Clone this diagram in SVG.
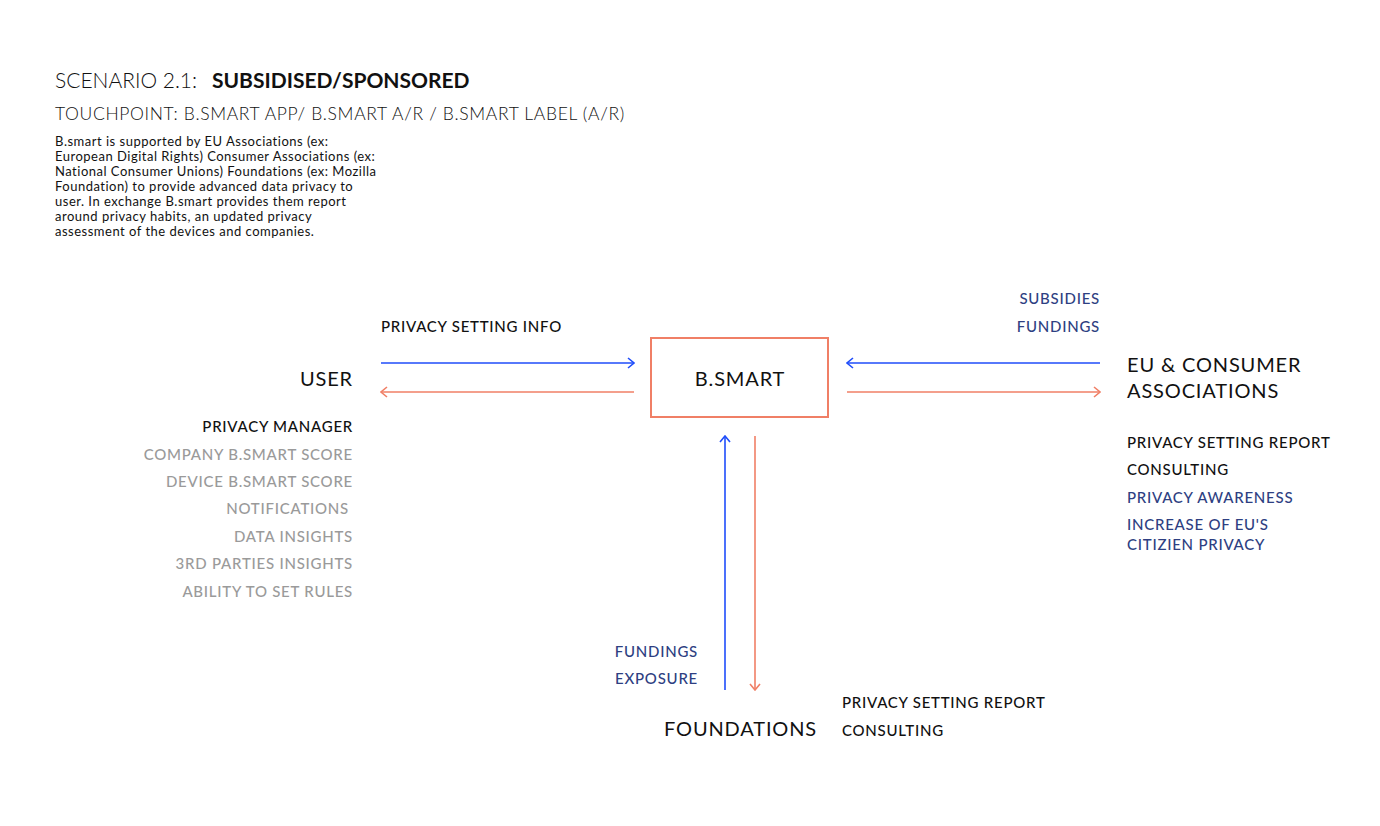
<svg xmlns="http://www.w3.org/2000/svg" width="1380" height="826" viewBox="0 0 1380 826">
<defs>
<style>
text{font-family:"Lato","Liberation Sans",sans-serif;}
.t15{font-size:15px;font-weight:500;letter-spacing:0.75px;}
.blk{fill:#111;}
.gry{fill:#9a9a9a;}
.nav{fill:#2e3f82;}
.big{font-size:20px;fill:#111;letter-spacing:0.85px;}
.p{font-size:13px;fill:#111;letter-spacing:0.5px;}
.blue{stroke:#1f4dfa;stroke-width:1.6;fill:none;}
.coral{stroke:#f07f66;stroke-width:1.6;fill:none;}
</style>
<marker id="ab" viewBox="0 0 12 12" refX="11" refY="6" markerWidth="12" markerHeight="12" markerUnits="userSpaceOnUse" orient="auto"><path d="M5,1 L11,6 L5,11" fill="none" stroke="#1f4dfa" stroke-width="1.6"/></marker>
<marker id="ac" viewBox="0 0 12 12" refX="11" refY="6" markerWidth="12" markerHeight="12" markerUnits="userSpaceOnUse" orient="auto"><path d="M5,1 L11,6 L5,11" fill="none" stroke="#f07f66" stroke-width="1.6"/></marker>
</defs>
<rect width="1380" height="826" fill="#fff"/>
<g id="header">
<text x="55" y="88" style="font-size:21px;font-weight:300;fill:#111">SCENARIO 2.1:</text>
<text x="212" y="88" style="font-size:21px;font-weight:700;fill:#111">SUBSIDISED/SPONSORED</text>
<text x="55" y="120" style="font-size:17.5px;font-weight:300;fill:#111;letter-spacing:0.65px">TOUCHPOINT: B.SMART APP/ B.SMART A/R / B.SMART LABEL (A/R)</text>
<text class="p" x="55" y="146">B.smart is supported by EU Associations (ex:</text>
<text class="p" x="55" y="161">European Digital Rights) Consumer Associations (ex:</text>
<text class="p" x="55" y="176">National Consumer Unions) Foundations (ex: Mozilla</text>
<text class="p" x="55" y="191">Foundation) to provide advanced data privacy to</text>
<text class="p" x="55" y="206">user. In exchange B.smart provides them report</text>
<text class="p" x="55" y="221">around privacy habits, an updated privacy</text>
<text class="p" x="55" y="236">assessment of the devices and companies.</text>
</g>
<g id="connectors">
<line class="blue" x1="381" y1="363" x2="634" y2="363" marker-end="url(#ab)"/>
<line class="coral" x1="634" y1="392" x2="381" y2="392" marker-end="url(#ac)"/>
<line class="blue" x1="1100" y1="363" x2="847" y2="363" marker-end="url(#ab)"/>
<line class="coral" x1="847" y1="392" x2="1100" y2="392" marker-end="url(#ac)"/>
<line class="blue" x1="725" y1="690" x2="725" y2="436" marker-end="url(#ab)"/>
<line class="coral" x1="755" y1="436" x2="755" y2="690" marker-end="url(#ac)"/>
</g>
<g id="labels">
<text class="t15 blk" x="381" y="332">PRIVACY SETTING INFO</text>
<text class="t15 nav" x="1100" y="304" text-anchor="end">SUBSIDIES</text>
<text class="t15 nav" x="1100" y="332" text-anchor="end">FUNDINGS</text>
<text class="t15 nav" x="698" y="657" text-anchor="end">FUNDINGS</text>
<text class="t15 nav" x="698" y="684" text-anchor="end">EXPOSURE</text>
</g>
<g id="bsmart">
<rect x="651" y="338" width="177" height="79" fill="none" stroke="#f07f66" stroke-width="2"/>
<text class="big" x="740" y="386" text-anchor="middle">B.SMART</text>
</g>
<g id="user">
<text class="big" x="353" y="386" text-anchor="end">USER</text>
<text class="t15 blk" x="353" y="432" text-anchor="end">PRIVACY MANAGER</text>
<text class="t15 gry" x="353" y="460" text-anchor="end">COMPANY B.SMART SCORE</text>
<text class="t15 gry" x="353" y="487" text-anchor="end">DEVICE B.SMART SCORE</text>
<text class="t15 gry" x="349" y="514" text-anchor="end">NOTIFICATIONS</text>
<text class="t15 gry" x="353" y="542" text-anchor="end">DATA INSIGHTS</text>
<text class="t15 gry" x="353" y="569" text-anchor="end">3RD PARTIES INSIGHTS</text>
<text class="t15 gry" x="353" y="597" text-anchor="end">ABILITY TO SET RULES</text>
</g>
<g id="eu">
<text class="big" x="1127" y="372">EU &amp; CONSUMER</text>
<text class="big" x="1127" y="398">ASSOCIATIONS</text>
<text class="t15 blk" x="1127" y="448">PRIVACY SETTING REPORT</text>
<text class="t15 blk" x="1127" y="475">CONSULTING</text>
<text class="t15 nav" x="1127" y="503">PRIVACY AWARENESS</text>
<text class="t15 nav" x="1127" y="530">INCREASE OF EU'S</text>
<text class="t15 nav" x="1127" y="550">CITIZIEN PRIVACY</text>
</g>
<g id="foundations">
<text class="big" x="664" y="736">FOUNDATIONS</text>
<text class="t15 blk" x="842" y="708">PRIVACY SETTING REPORT</text>
<text class="t15 blk" x="842" y="736">CONSULTING</text>
</g>
</svg>
